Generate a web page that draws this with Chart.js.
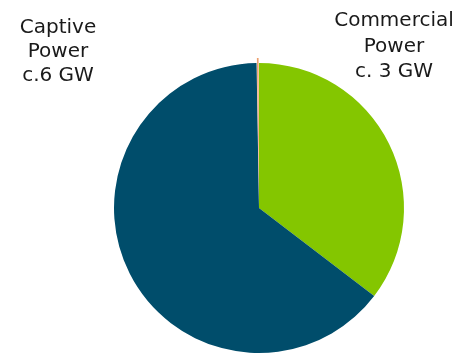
<!DOCTYPE html>
<html>
<head>
<meta charset="utf-8">
<script src="https://cdn.jsdelivr.net/npm/chart.js@4/dist/chart.umd.min.js"></script>
<style>
html, body { margin: 0; padding: 0; background: #fff; overflow: hidden; height: 354px; }
#wrap { width: 458px; height: 362px; }
</style>
</head>
<body>
<div id="wrap"><canvas id="chart"></canvas></div>
<script>
// segments, clockwise from 12 o'clock (GW)
const categories = ['Commercial Power', 'Captive Power', 'Other'];
const capacity = [3.3, 6.0, 0.025];
const colors = ['#84c600', '#004d6b', '#ec9f6e'];
const offsets = [0, 0, 10];

const leftLabel = ['Captive', 'Power', 'c.6 GW'];
const rightLabel = ['Commercial', 'Power', 'c. 3 GW'];

const sideLabels = {
    id: 'sideLabels',
    afterDraw(chart) {
        const c = chart.ctx;
        c.save();
        c.font = '20px "DejaVu Sans"';
        c.fillStyle = '#1a1a1a';
        c.textAlign = 'center';
        c.textBaseline = 'middle';
        leftLabel.forEach((t, i) => c.fillText(t, 58, 28 + i * 24));
        rightLabel.forEach((t, i) => c.fillText(t, 394, 21 + i * 25.5));
        c.restore();
    }
};

let ctx = document.getElementById('chart').getContext('2d');

let myChart = new Chart(ctx, {
    type: 'pie',
    data: {
        labels: categories,
        datasets: [{
            data: capacity,
            backgroundColor: colors,
            borderWidth: 0,
            offset: offsets
        }]
    },
    options: {
        responsive: true,
        maintainAspectRatio: false,
        animation: false,
        layout: {
            padding: { top: 58, bottom: 4, left: 109, right: 49 }
        },
        plugins: {
            legend: { display: false },
            tooltip: { enabled: false }
        }
    },
    plugins: [sideLabels]
});
</script>
</body>
</html>
